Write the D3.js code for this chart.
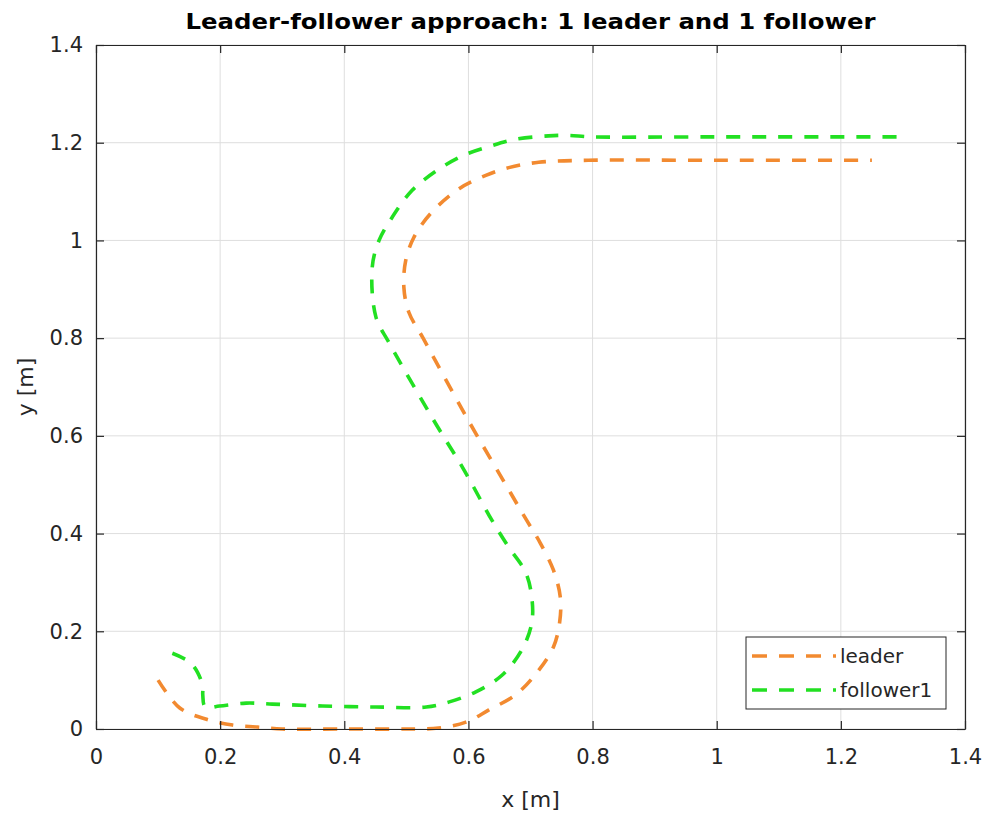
<!DOCTYPE html>
<html>
<head>
<meta charset="utf-8">
<script src="https://cdn.jsdelivr.net/npm/d3@7"></script>
<style>
  html, body { margin: 0; padding: 0; background: #fff; }
  svg { display: block; font-family: "DejaVu Sans", "Liberation Sans", Arial, sans-serif; }
</style>
</head>
<body>
<svg id="chart" width="989" height="814"></svg>
<script>
// Trajectory of the leader robot (x, y in metres)
const leaderX = [0.10, 0.135, 0.178, 0.22, 0.26, 0.30, 0.40, 0.50, 0.552, 0.596, 0.633, 0.676, 0.710, 0.737, 0.747, 0.748, 0.737, 0.716, 0.692, 0.668, 0.597, 0.527, 0.504, 0.496, 0.499, 0.512, 0.539, 0.585, 0.628, 0.665, 0.713, 0.793, 1.0, 1.25];
const leaderY = [0.10, 0.043, 0.020, 0.008, 0.004, 0.0, 0.0, 0.0, 0.002, 0.014, 0.039, 0.070, 0.115, 0.168, 0.219, 0.270, 0.325, 0.380, 0.431, 0.483, 0.638, 0.800, 0.853, 0.904, 0.959, 1.006, 1.055, 1.106, 1.133, 1.149, 1.160, 1.164, 1.164, 1.164];

// Trajectory of the follower robot
const followerX = [0.123, 0.151, 0.164, 0.172, 0.172, 0.176, 0.199, 0.242, 0.284, 0.365, 0.451, 0.532, 0.568, 0.612, 0.654, 0.686, 0.702, 0.702, 0.692, 0.665, 0.638, 0.593, 0.544, 0.472, 0.451, 0.445, 0.456, 0.477, 0.509, 0.549, 0.592, 0.633, 0.676, 0.729, 0.76, 0.80, 1.0, 1.29];
const followerY = [0.155, 0.137, 0.115, 0.086, 0.070, 0.045, 0.047, 0.053, 0.051, 0.047, 0.045, 0.045, 0.055, 0.076, 0.110, 0.162, 0.217, 0.270, 0.321, 0.372, 0.427, 0.530, 0.632, 0.791, 0.843, 0.945, 1.0, 1.047, 1.102, 1.143, 1.174, 1.192, 1.207, 1.214, 1.215, 1.212, 1.212, 1.212];

const xTicks = [0, 0.2, 0.4, 0.6, 0.8, 1, 1.2, 1.4];
const yTicks = [0, 0.2, 0.4, 0.6, 0.8, 1, 1.2, 1.4];
const seriesNames = ["leader", "follower1"];
const seriesColors = ["#F28A30", "#22E022"];

const titleText = "Leader-follower approach: 1 leader and 1 follower";
const xLabel = "x [m]";
const yLabel = "y [m]";

const margin = { left: 96, right: 24, top: 45, bottom: 85 };
const W = 989, H = 814;
const iw = W - margin.left - margin.right;
const ih = H - margin.top - margin.bottom;

const svg = d3.select("#chart");
svg.append("rect").attr("width", W).attr("height", H).attr("fill", "#fff");

const g = svg.append("g").attr("transform", `translate(${margin.left},${margin.top})`);

const x = d3.scaleLinear().domain([0, 1.4]).range([0, iw]);
const y = d3.scaleLinear().domain([0, 1.4]).range([ih, 0]);
const fmt = d => d3.format("~g")(d);
const axisColor = "#262626";
const fontFam = "'DejaVu Sans', 'Liberation Sans', Arial, sans-serif";

// grid
g.append("g").attr("class", "grid")
  .selectAll("line.gx").data(xTicks).join("line")
  .attr("x1", d => x(d)).attr("x2", d => x(d)).attr("y1", 0).attr("y2", ih)
  .attr("stroke", "#dedede").attr("stroke-width", 1);
g.append("g").attr("class", "grid")
  .selectAll("line.gy").data(yTicks).join("line")
  .attr("x1", 0).attr("x2", iw).attr("y1", d => y(d)).attr("y2", d => y(d))
  .attr("stroke", "#dedede").attr("stroke-width", 1);

// trajectories
const line = d3.line()
  .x(d => x(d[0])).y(d => y(d[1]))
  .curve(d3.curveCatmullRom.alpha(0.5));

const series = [
  d3.zip(leaderX, leaderY),
  d3.zip(followerX, followerY)
];

g.append("g").selectAll("path.traj").data(series).join("path")
  .attr("class", "traj")
  .attr("d", line)
  .attr("fill", "none")
  .attr("stroke", (d, i) => seriesColors[i])
  .attr("stroke-width", 3.6)
  .attr("stroke-dasharray", "14,12");

// axes with inward ticks on all four sides
function styleAxis(sel) {
  sel.select(".domain").attr("stroke", axisColor).attr("stroke-width", 1.2);
  sel.selectAll(".tick line").attr("stroke", axisColor).attr("stroke-width", 1.2);
  sel.selectAll(".tick text").attr("fill", axisColor)
    .style("font-size", "21px").style("font-family", fontFam);
}

g.append("g").attr("transform", `translate(0,${ih})`)
  .call(d3.axisBottom(x).tickValues(xTicks).tickFormat(fmt).tickSizeInner(-8).tickSizeOuter(0).tickPadding(20))
  .call(styleAxis);
g.append("g")
  .call(d3.axisTop(x).tickValues(xTicks).tickFormat("").tickSizeInner(-8).tickSizeOuter(0))
  .call(styleAxis);
g.append("g")
  .call(d3.axisLeft(y).tickValues(yTicks).tickFormat(fmt).tickSizeInner(-8).tickSizeOuter(0).tickPadding(13))
  .call(styleAxis);
g.append("g").attr("transform", `translate(${iw},0)`)
  .call(d3.axisRight(y).tickValues(yTicks).tickFormat("").tickSizeInner(-8).tickSizeOuter(0))
  .call(styleAxis);

// title and axis labels
svg.append("text")
  .attr("x", margin.left + iw / 2).attr("y", 29)
  .attr("text-anchor", "middle")
  .attr("font-weight", "bold").attr("font-size", 22)
  .attr("textLength", 690).attr("lengthAdjust", "spacingAndGlyphs")
  .attr("fill", "#000")
  .text(titleText);

svg.append("text")
  .attr("x", margin.left + iw / 2).attr("y", 807)
  .attr("text-anchor", "middle").attr("font-size", 22).attr("fill", axisColor)
  .text(xLabel);

svg.append("text")
  .attr("transform", `translate(33,${margin.top + ih / 2}) rotate(-90)`)
  .attr("text-anchor", "middle").attr("font-size", 22).attr("fill", axisColor)
  .text(yLabel);

// legend
const lg = svg.append("g").attr("transform", "translate(746,637)");
lg.append("rect").attr("width", 200).attr("height", 72)
  .attr("fill", "#fff").attr("stroke", axisColor).attr("stroke-width", 1);
const items = lg.selectAll("g.item").data(seriesNames).join("g")
  .attr("class", "item")
  .attr("transform", (d, i) => `translate(0,${19 + i * 34})`);
items.append("line")
  .attr("x1", 6).attr("x2", 90).attr("y1", 0).attr("y2", 0)
  .attr("stroke", (d, i) => seriesColors[i]).attr("stroke-width", 3.6)
  .attr("stroke-dasharray", "15,12");
items.append("text")
  .attr("x", 94).attr("y", 0).attr("dy", "0.35em")
  .attr("font-size", 20).attr("fill", axisColor)
  .text(d => d);
</script>
</body>
</html>
